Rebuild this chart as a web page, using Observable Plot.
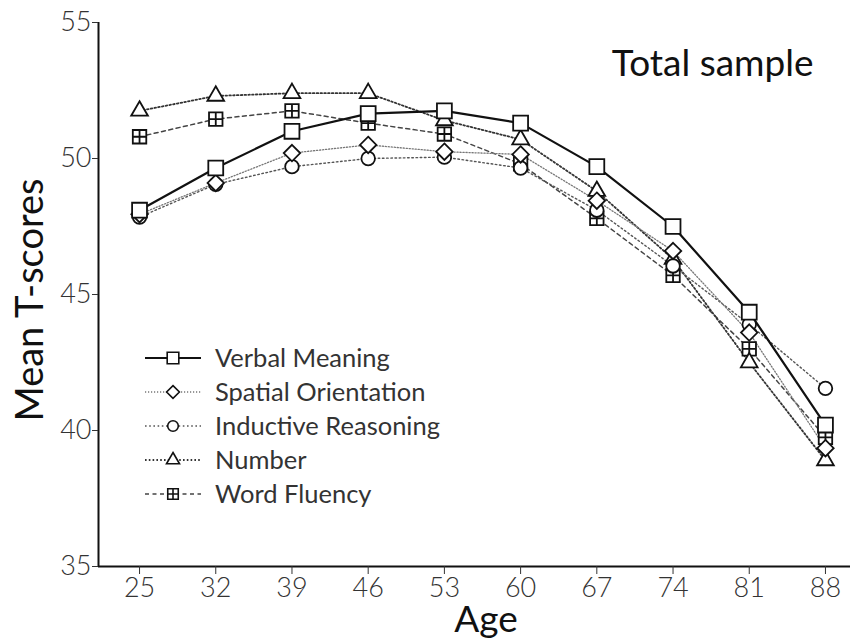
<!DOCTYPE html>
<html>
<head>
<meta charset="utf-8">
<script src="https://cdn.jsdelivr.net/npm/d3@7"></script>
<script src="https://cdn.jsdelivr.net/npm/@observablehq/plot@0.6"></script>
<style>
  html, body { margin: 0; padding: 0; background: #fff; }
  #chart { width: 850px; height: 644px; }
  svg { font-family: Lato, "Open Sans", sans-serif; }
</style>
</head>
<body>
<div id="chart"></div>
<script>
// ---- data ----
const ages = [25, 32, 39, 46, 53, 60, 67, 74, 81, 88];
const verbalMeaning       = [48.1, 49.65, 51.0, 51.65, 51.75, 51.3, 49.7, 47.5, 44.35, 40.2];
const spatialOrientation  = [47.95, 49.1, 50.2, 50.5, 50.25, 50.15, 48.45, 46.6, 43.6, 39.35];
const inductiveReasoning  = [47.85, 49.05, 49.7, 50.0, 50.05, 49.65, 48.1, 46.05, 43.9, 41.55];
const numberAbility       = [51.75, 52.3, 52.4, 52.4, 51.4, 50.7, 48.8, 46.3, 42.5, 38.9];
const wordFluency         = [50.8, 51.45, 51.75, 51.3, 50.9, 49.8, 47.8, 45.7, 43.0, 39.75];
const seriesNames = ["Verbal Meaning", "Spatial Orientation", "Inductive Reasoning", "Number", "Word Fluency"];
const yTicks = [35, 40, 45, 50, 55];

// ---- styles ----
const gridSquare = {
  draw(context, size) {
    const w = Math.sqrt(size) / 2;
    context.moveTo(-w, -w); context.lineTo(w, -w); context.lineTo(w, w); context.lineTo(-w, w); context.closePath();
    context.moveTo(0, -w); context.lineTo(0, w);
    context.moveTo(-w, 0); context.lineTo(w, 0);
  }
};
const styles = {
  "Verbal Meaning":      {values: verbalMeaning,      symbol: "square",   r: 8.4, stroke: "#111", width: 2.2, dash: null},
  "Spatial Orientation": {values: spatialOrientation, symbol: "diamond2", r: 7.4, stroke: "#777", width: 1.3, dash: "1.2,1.8"},
  "Inductive Reasoning": {values: inductiveReasoning, symbol: "circle",   r: 6.8, stroke: "#555", width: 1.4, dash: "1.6,2.6"},
  "Number":              {values: numberAbility,      symbol: "triangle", r: 6.2, stroke: "#333", width: 1.8, dash: "1.6,2.2"},
  "Word Fluency":        {values: wordFluency,        symbol: gridSquare, r: 7.6, stroke: "#444", width: 1.5, dash: "4,3.5"}
};

const rows = seriesNames.flatMap(name => ages.map((age, i) => ({series: name, age, value: styles[name].values[i]})));

const xDomain = [21.23, 90.3];
const drawOrder = ["Word Fluency", "Number", "Inductive Reasoning", "Spatial Orientation", "Verbal Meaning"];

const marks = [
  Plot.ruleX([xDomain[0]], {stroke: "#111", strokeWidth: 2}),
  Plot.ruleY([35], {stroke: "#111", strokeWidth: 2}),
  Plot.axisX({ticks: ages, tickSize: 8, tickPadding: 3, fontSize: 27, fontWeight: 300, label: null, color: "#333"}),
  Plot.axisY({ticks: yTicks, tickSize: 6, tickPadding: 1, fontSize: 27, fontWeight: 300, label: null, color: "#333"}),
  ...drawOrder.map(name => Plot.line(rows.filter(d => d.series === name), {
    x: "age", y: "value", stroke: styles[name].stroke, strokeWidth: styles[name].width,
    strokeDasharray: styles[name].dash
  })),
  ...drawOrder.map(name => Plot.dot(rows.filter(d => d.series === name), {
    x: "age", y: "value", symbol: () => styles[name].symbol, r: styles[name].r,
    fill: "white", stroke: "#111", strokeWidth: 1.8
  })),
  Plot.text(["Total sample"], {frameAnchor: "top-right", dx: -37, dy: 27, fontSize: 37, fill: "#111", textAnchor: "end"})
];

const chart = Plot.plot({
  width: 850, height: 644,
  marginTop: 22, marginBottom: 78, marginLeft: 98, marginRight: 0,
  x: {type: "linear", domain: xDomain},
  y: {domain: [35, 55]},
  symbol: {type: "identity"},
  marks
});
document.getElementById("chart").appendChild(chart);

// ---- axis titles and legend (overlay in the same svg) ----
const svg = d3.select(chart);
svg.append("text").text("Age")
  .attr("x", 486).attr("y", 632).attr("text-anchor", "middle")
  .attr("font-size", 37).attr("fill", "#111");
svg.append("text").text("Mean T-scores")
  .attr("transform", "translate(43,300) rotate(-90)").attr("text-anchor", "middle")
  .attr("font-size", 38).attr("fill", "#111");

const legend = svg.append("g").attr("transform", "translate(145,358)");
seriesNames.forEach((name, i) => {
  const s = styles[name];
  const g = legend.append("g").attr("transform", `translate(0,${i * 34})`);
  g.append("line").attr("x1", 0).attr("x2", 56).attr("y1", 0).attr("y2", 0)
    .attr("stroke", s.stroke).attr("stroke-width", s.width)
    .attr("stroke-dasharray", s.dash);
  const sym = typeof s.symbol === "string"
    ? {square: d3.symbolSquare, diamond2: d3.symbolDiamond2, circle: d3.symbolCircle, triangle: d3.symbolTriangle}[s.symbol]
    : s.symbol;
  const rr = s.r * 0.78;
  g.append("path").attr("d", d3.symbol(sym, rr * rr * Math.PI)())
    .attr("transform", "translate(28,0)")
    .attr("fill", "white").attr("stroke", "#111").attr("stroke-width", 1.6);
  g.append("text").text(name).attr("x", 70).attr("y", 0).attr("dy", "0.35em")
    .attr("text-anchor", "start")
    .attr("font-size", 25.5).attr("fill", "#333");
});
</script>
</body>
</html>
